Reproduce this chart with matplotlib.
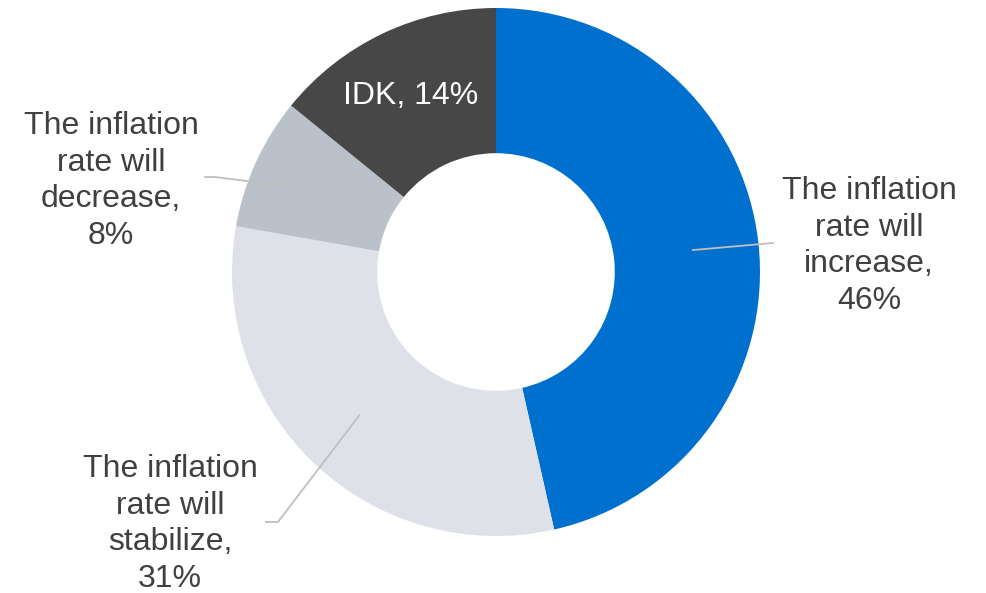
import numpy as np
import matplotlib.pyplot as plt

plt.rcParams['font.family'] = ['Liberation Sans', 'DejaVu Sans']

# survey answers, clockwise from 12 o'clock
answers = ["The inflation\nrate will\nincrease,", "The inflation\nrate will\nstabilize,",
           "The inflation\nrate will\ndecrease,", "IDK,"]
shares = [46, 31, 8, 14]
colors = ["#0070CE", "#DFE1E8", "#BAC1CA", "#474747"]

fig = plt.figure(figsize=(9.87, 5.93), dpi=100)
ax = fig.add_axes([0, 0, 1, 1])

wedges, _ = ax.pie(shares, colors=colors, startangle=90, counterclock=False,
                   radius=1.0, wedgeprops=dict(width=0.55, linewidth=0))

# pie() resets the limits, so set them afterwards
ax.set_xlim(-496 / 264, (987 - 496) / 264)
ax.set_ylim(-(593 - 272) / 264, 272 / 264)
ax.set_aspect('equal')
ax.axis('off')

txt = dict(fontsize=23, color="#404040", ha='center', va='center', linespacing=1.29)
line = dict(color="#BFBFBF", lw=1.3, zorder=3)

def anchor(w, r=0.75):
    a = np.deg2rad((w.theta1 + w.theta2) / 2)
    return r * np.cos(a), r * np.sin(a)

def px(x, y):
    return (x - 496) / 264, (272 - y) / 264

# increase
x0, y0 = anchor(wedges[0])
x1, y1 = px(773, 243)
ax.plot([x0, x1], [y0, y1], **line)
ax.text(*px(869, 246), f"{answers[0]}\n{shares[0]}%", **txt)

# stabilize
x0, y0 = anchor(wedges[1])
x1, y1 = px(278, 522)
x2, _ = px(266, 522)
ax.plot([x0, x1, x2], [y0, y1, y1], **line)
ax.text(*px(170, 524), f"{answers[1]}\n{shares[1]}%", **txt)

# decrease
x0, y0 = anchor(wedges[2])
x1, y1 = px(215, 177)
x2, _ = px(205, 177)
ax.plot([x0, x1, x2], [y0, y1, y1], **line)
ax.text(*px(111, 181), f"{answers[2]}\n{shares[2]}%", **txt)

# don't know, inside the slice
ax.text(*px(411, 96), f"{answers[3]} {shares[3]}%", fontsize=23, color="white",
        ha='center', va='center')

fig.savefig("out.png", dpi=100)
